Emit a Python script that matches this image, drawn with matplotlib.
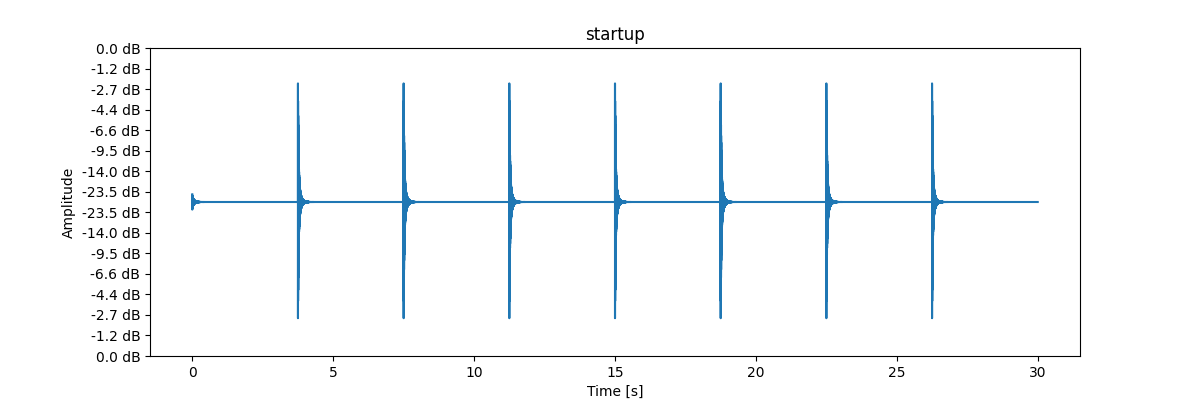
import numpy as np
import matplotlib
matplotlib.use('Agg')
import matplotlib.pyplot as plt

# recording settings
sample_rate = 16000
duration = 30.0

# clicks: onset time [s], peak amplitude, tail level
click_times = [0.0, 3.75, 7.5, 11.25, 15.0, 18.75, 22.5, 26.25]
click_peaks = [0.05, 0.77, 0.77, 0.77, 0.77, 0.77, 0.77, 0.77]
tail_levels = [0.03, 0.2, 0.2, 0.2, 0.2, 0.2, 0.2, 0.2]
tone_hz = 1000.0

t = np.arange(int(duration * sample_rate) + 1) / sample_rate
signal = np.zeros_like(t)
for t0, peak, tail in zip(click_times, click_peaks, tail_levels):
    idx = t >= t0
    dt = t[idx] - t0
    env = (peak - tail) * np.exp(-dt / 0.02) + tail * np.exp(-dt / 0.07)
    signal[idx] += env * np.sin(2 * np.pi * tone_hz * dt + np.pi / 2)

yticks = np.linspace(-1, 1, 16)
ylabels = ['%.1f dB' % (20 * np.log10(abs(v))) for v in yticks]

fig = plt.figure(figsize=(12, 4), dpi=100)
ax = fig.add_subplot(1, 1, 1)
ax.plot(t, signal)
ax.set_ylim(-1, 1)
ax.set_yticks(yticks)
ax.set_yticklabels(ylabels)
ax.set_title('startup')
ax.set_xlabel('Time [s]')
ax.set_ylabel('Amplitude')
fig.savefig('out.png')
